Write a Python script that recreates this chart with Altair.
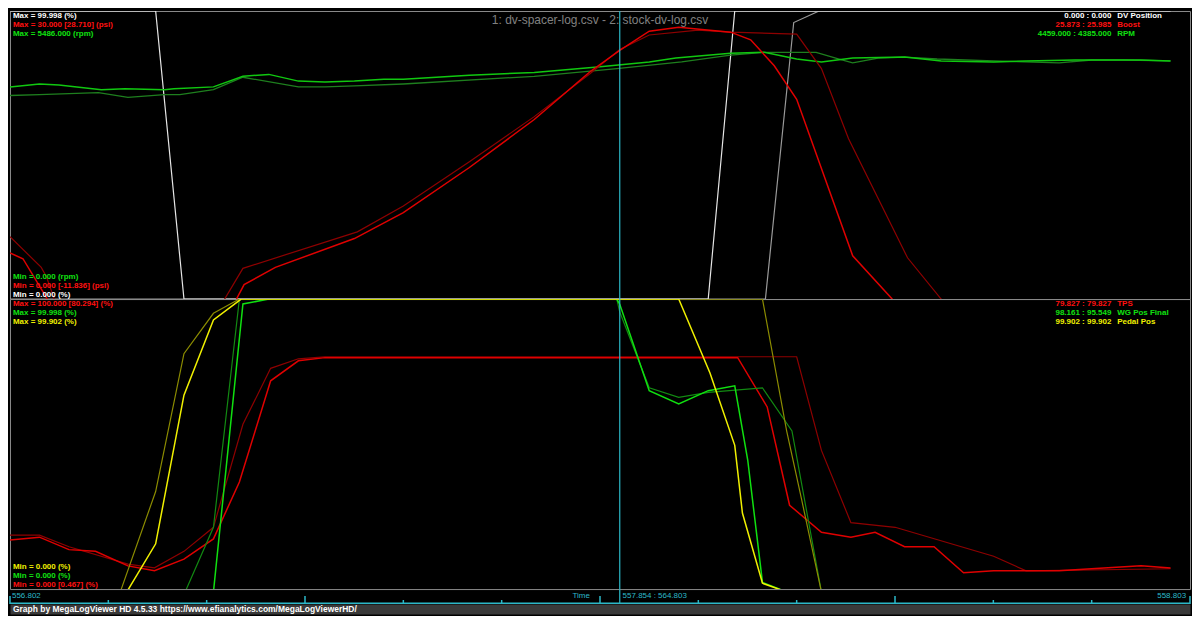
import altair as alt
import pandas as pd

# ---------------- data ----------------
T_START, T_END = 556.802, 558.803
CURSOR_T = 557.836
time_labels = ["556.802", "558.803"]
cursor_readout = "557.854 : 564.803"
title_text = "1: dv-spacer-log.csv - 2: stock-dv-log.csv"
footer_text = "Graph by MegaLogViewer HD 4.5.33 https://www.efianalytics.com/MegaLogViewerHD/"

# --- top panel ---
dv1_t = [556.802, 557.049, 557.097, 557.986, 558.031, 558.770]
dv1_v = [99.998, 99.998, 0.0, 0.0, 99.998, 99.998]
dv2_t = [556.802, 558.083, 558.131, 558.174, 558.770]
dv2_v = [0.0, 0.0, 96.0, 99.998, 99.998]

boost1_t = [556.802, 556.824, 556.885, 557.136, 557.186, 557.199, 557.252, 557.386, 557.469,
            557.581, 557.691, 557.786, 557.836, 557.886, 557.936, 558.024, 558.058, 558.098,
            558.136, 558.231, 558.298, 558.353, 558.770]
boost1_v = [4.8, 4.2, -2.0, -5.0, 0.0, 1.5, 3.3, 6.3, 9.0,
            13.7, 18.7, 23.7, 25.9, 27.9, 28.3, 27.8, 27.0, 24.3,
            20.8, 4.5, 0.0, -3.0, -8.0]
boost2_t = [556.802, 556.855, 556.864, 556.877, 556.894, 557.136, 557.166, 557.197, 557.391,
            557.469, 557.581, 557.691, 557.786, 557.836, 557.886, 557.969, 558.024, 558.136,
            558.178, 558.224, 558.324, 558.381, 558.436, 558.770]
boost2_v = [6.5, 3.3, 2.3, 0.0, -3.0, -5.0, 0.0, 3.2, 7.0,
            9.7, 14.3, 19.0, 23.5, 26.0, 27.5, 28.0, 27.8, 27.6,
            24.0, 16.7, 4.3, 0.0, -3.0, -8.0]

rpm1_t = [556.802, 556.852, 556.885, 556.957, 556.997, 557.064, 557.080, 557.147, 557.197,
          557.241, 557.291, 557.336, 557.386, 557.436, 557.469, 557.581, 557.691, 557.803,
          557.886, 557.931, 558.024, 558.081, 558.136, 558.178, 558.231, 558.319, 558.381,
          558.470, 558.525, 558.608, 558.720, 558.770]
rpm1_v = [4041, 4096, 4078, 3987, 4005, 3987, 4005, 4041, 4243,
          4279, 4151, 4133, 4151, 4188, 4188, 4261, 4316, 4425,
          4517, 4590, 4681, 4700, 4572, 4517, 4590, 4608, 4535,
          4517, 4535, 4553, 4553, 4535]
rpm2_t = [556.802, 556.852, 556.952, 557.002, 557.064, 557.090, 557.147, 557.197, 557.291,
          557.336, 557.386, 557.469, 557.691, 557.831, 557.941, 558.024, 558.081, 558.169,
          558.208, 558.231, 558.274, 558.319, 558.374, 558.470, 558.581, 558.636, 558.691,
          558.770]
rpm2_v = [3877, 3895, 3932, 3840, 3895, 3895, 3987, 4224, 4041,
          4041, 4060, 4096, 4243, 4389, 4517, 4645, 4700, 4700,
          4572, 4499, 4590, 4608, 4572, 4535, 4499, 4553, 4553,
          4535]

# --- bottom panel ---
tps1_t = [556.802, 556.852, 556.902, 556.947, 557.002, 557.047, 557.097, 557.147, 557.191,
          557.244, 557.291, 557.336, 558.036, 558.086, 558.124, 558.178, 558.228, 558.269,
          558.319, 558.369, 558.419, 558.470, 558.581, 558.636, 558.720, 558.770]
tps1_v = [16.9, 17.9, 13.6, 13.0, 8.0, 6.3, 10.3, 17.3, 36.9,
          71.8, 78.7, 79.8, 79.8, 62.8, 28.9, 19.6, 17.9, 19.6,
          14.6, 14.6, 5.6, 6.3, 6.3, 7.0, 8.0, 7.3]
tps2_t = [556.802, 556.852, 556.902, 557.002, 557.047, 557.097, 557.147, 557.197, 557.244,
          557.291, 557.336, 558.136, 558.178, 558.228, 558.303, 558.470, 558.525, 558.770]
tps2_v = [18.6, 18.6, 14.6, 8.6, 7.3, 13.0, 21.3, 56.8, 76.1,
          79.4, 80.1, 80.1, 47.8, 22.9, 21.3, 11.3, 6.3, 7.0]

wg1_t = [556.802, 557.147, 557.197, 557.241, 557.831, 557.836, 557.886, 557.936, 557.986,
         558.031, 558.053, 558.078, 558.119, 558.770]
wg1_v = [-1.0, -1.0, 98.3, 99.998, 99.998, 98.2, 68.4, 63.8, 68.4,
         70.1, 44.5, 2.3, -1.0, -1.0]
wg2_t = [556.802, 557.099, 557.147, 557.191, 557.831, 557.836, 557.886, 557.936, 557.986,
         558.078, 558.128, 558.178, 558.770]
wg2_v = [-1.0, -1.0, 21.3, 99.998, 99.998, 95.5, 69.4, 66.1, 67.8,
         69.4, 54.5, -1.0, -1.0]

ped1_t = [556.802, 557.000, 557.049, 557.097, 557.147, 557.194, 557.936, 557.989, 558.031,
          558.044, 558.078, 558.119, 558.770]
ped1_v = [-1.0, -1.0, 15.6, 66.8, 92.7, 99.902, 99.902, 74.4, 49.5,
          26.2, 2.0, -1.0, -1.0]
ped2_t = [556.802, 556.989, 557.049, 557.097, 557.147, 557.191, 558.078, 558.119, 558.144,
          558.178, 558.770]
ped2_v = [-1.0, -1.0, 33.6, 81.1, 95.0, 99.902, 99.902, 54.5, 31.2,
          -1.0, -1.0]

# --- labels ---
top_left_max = ["Max = 99.998 (%)", "Max = 30.000 [28.710] (psi)", "Max = 5486.000 (rpm)"]
top_left_min = ["Min = 0.000 (rpm)", "Min = 0.000 [-11.836] (psi)", "Min = 0.000 (%)"]
top_right_vals = ["0.000 : 0.000", "25.873 : 25.985", "4459.000 : 4385.000"]
top_right_names = ["DV Position", "Boost", "RPM"]
bot_left_max = ["Max = 100.000 [80.294] (%)", "Max = 99.998 (%)", "Max = 99.902 (%)"]
bot_left_min = ["Min = 0.000 (%)", "Min = 0.000 (%)", "Min = 0.000 [0.467] (%)"]
bot_right_vals = ["79.827 : 79.827", "98.161 : 95.549", "99.902 : 99.902"]
bot_right_names = ["TPS", "WG Pos Final", "Pedal Pos"]

# ---------------- layout ----------------
W = 1184
H1, H2, H3, H4 = 289, 291, 15, 10
SX = W / 1200.0
SY1 = H1 / 300.0

WHITE, RED, GREEN, YELLOW = "#ffffff", "#ff1010", "#10e010", "#f0f000"
CYAN = "#2cb8c8"
FONT = "Liberation Sans"
LS = 8          # label font size
LH = 9          # label line step
TOP0 = 5        # first label line centre
BOT0 = 4.5      # last label line centre, from panel bottom

xs = alt.Scale(domain=[T_START, T_END], nice=False, zero=False)
X = alt.X("t:Q", scale=xs, axis=None)


def line(t, v, ymax, color, width):
    df = pd.DataFrame({"t": t, "v": v})
    return alt.Chart(df).mark_line(color=color, strokeWidth=width, clip=True).encode(
        x=X,
        y=alt.Y("v:Q", scale=alt.Scale(domain=[0, ymax], nice=False, zero=False), axis=None),
    )


def txt(s, x, y, color, align="left", size=LS, bold=True):
    return alt.Chart(pd.DataFrame({"s": [s]})).mark_text(
        align=align, baseline="middle", color=color, fontSize=size,
        fontWeight="bold" if bold else "normal", font=FONT,
    ).encode(x=alt.value(x), y=alt.value(y), text="s:N")


def cursor():
    return alt.Chart(pd.DataFrame({"t": [CURSOR_T]})).mark_rule(
        color=CYAN, strokeWidth=1.2).encode(x=X)


def label_blocks(layers, h, left_max, left_max_c, left_min, left_min_c, rv, rn, rc):
    for i, (s, c) in enumerate(zip(left_max, left_max_c)):
        layers.append(txt(s, 3, TOP0 + LH * i, c))
    for i, (s, c) in enumerate(zip(left_min, left_min_c)):
        layers.append(txt(s, 3, h - BOT0 - LH * (2 - i), c))
    for i, (s, n, c) in enumerate(zip(rv, rn, rc)):
        layers.append(txt(s, 1120 * SX, TOP0 + LH * i, c, align="right"))
        layers.append(txt(n, 1126 * SX, TOP0 + LH * i, c))


# top panel
top_layers = [
    line(dv2_t, dv2_v, 99.998, "#9a9a9a", 1.2),
    line(dv1_t, dv1_v, 99.998, "#e6e6e6", 1.2),
    line(rpm2_t, rpm2_v, 5486, "#1e7f1e", 1.3),
    line(rpm1_t, rpm1_v, 5486, "#10c810", 1.5),
    line(boost2_t, boost2_v, 30, "#8e0000", 1.2),
    line(boost1_t, boost1_v, 30, "#e00000", 1.5),
    cursor(),
    txt(title_text, W / 2, 9 * SY1, "#808080", align="center", size=12, bold=False),
]
label_blocks(top_layers, H1, top_left_max, [WHITE, RED, GREEN], top_left_min,
             [GREEN, RED, WHITE], top_right_vals, top_right_names, [WHITE, RED, GREEN])
top = alt.layer(*top_layers).resolve_scale(y="independent").properties(width=W, height=H1)

# bottom panel
bot_layers = [
    line(tps2_t, tps2_v, 100, "#8e0000", 1.2),
    line(tps1_t, tps1_v, 100, "#e00000", 1.5),
    line(wg2_t, wg2_v, 99.998, "#128a12", 1.2),
    line(wg1_t, wg1_v, 99.998, "#10e010", 1.5),
    line(ped2_t, ped2_v, 99.902, "#8c8c00", 1.2),
    line(ped1_t, ped1_v, 99.902, "#f0f000", 1.5),
    cursor(),
]
label_blocks(bot_layers, H2, bot_left_max, [RED, GREEN, YELLOW], bot_left_min,
             [YELLOW, GREEN, RED], bot_right_vals, bot_right_names, [RED, GREEN, YELLOW])
bottom = alt.layer(*bot_layers).resolve_scale(y="independent").properties(width=W, height=H2)

# time strip
step = (T_END - T_START) / 12
tick_df = pd.DataFrame({"t": [T_START + k * step for k in range(13)],
                        "tall": [k % 3 == 0 for k in range(13)]})
ticks_short = alt.Chart(tick_df[~tick_df.tall]).mark_rule(color=CYAN, strokeWidth=1.5).encode(
    x=X, y=alt.value(H3 - 4), y2=alt.value(H3))
ticks_tall = alt.Chart(tick_df[tick_df.tall]).mark_rule(color=CYAN, strokeWidth=1.5).encode(
    x=X, y=alt.value(H3 - 8), y2=alt.value(H3))
baseline = alt.Chart(pd.DataFrame({"t": [T_START], "t2": [T_END]})).mark_rule(
    color=CYAN, strokeWidth=1.5).encode(x=X, x2="t2:Q", y=alt.value(H3 - 0.75))
strip = alt.layer(
    baseline, ticks_short, ticks_tall, cursor(),
    txt(time_labels[0], 2, 7, CYAN, bold=False),
    txt("Time", 572 * SX, 7, CYAN, bold=False),
    txt(cursor_readout, 623 * SX, 7, CYAN, bold=False),
    txt(time_labels[1], 1196 * SX, 7, CYAN, align="right", bold=False),
).properties(width=W, height=H3, view=alt.ViewBackground(stroke="transparent"))

# footer
footer = txt(footer_text, 3, H4 / 2, WHITE, size=8.5).properties(
    width=W, height=H4, view=alt.ViewBackground(fill="#3a3a3a", stroke="transparent"))

chart = alt.vconcat(top, bottom, strip, footer, spacing=0, bounds="flush").properties(
    padding=0, background="#000000"
).configure_view(stroke="#8a8a8a", strokeWidth=1)

chart.save("out.html", embed_options={"renderer": "svg", "actions": False})
